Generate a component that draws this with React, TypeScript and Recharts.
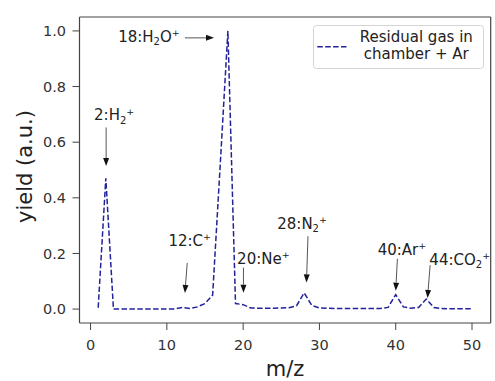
import React from 'react';
import { LineChart, Line, XAxis, YAxis, ReferenceLine, ReferenceDot, Legend } from 'recharts';

// m/z channels (x) and measured yield (y)
const mz = [1, 2, 3, 4, 5, 6, 7, 8, 9, 10, 11, 12, 13, 14, 15, 16, 17, 18, 19, 20, 21, 22, 23, 24, 25,
  26, 27, 28, 29, 30, 31, 32, 33, 34, 35, 36, 37, 38, 39, 40, 41, 42, 43, 44, 45, 46, 47, 48, 49, 50];
const yieldAU = [0.005, 0.47, 0.0, 0.0, 0.0, 0.0, 0.0, 0.0, 0.0, 0.0, 0.0, 0.006, 0.002, 0.008, 0.02,
  0.05, 0.52, 1.0, 0.02, 0.016, 0.004, 0.003, 0.003, 0.003, 0.004,
  0.005, 0.012, 0.058, 0.013, 0.004, 0.003, 0.002, 0.002, 0.002, 0.002, 0.002, 0.002, 0.002, 0.006, 0.052,
  0.008, 0.003, 0.006, 0.036, 0.006, 0.002, 0.001, 0.001, 0.001, 0.001];

const xTicks = [0, 10, 20, 30, 40, 50];
const yTicks = [0, 0.2, 0.4, 0.6, 0.8, 1.0];
const seriesName = 'Residual gas in\nchamber + Ar';

type Seg = { t: string; k?: 'sub' | 'sup' };
// peak annotation labels
const annLabels: Seg[][] = [
  [{ t: '2:H' }, { t: '2', k: 'sub' }, { t: '+', k: 'sup' }],
  [{ t: '18:H' }, { t: '2', k: 'sub' }, { t: 'O' }, { t: '+', k: 'sup' }],
  [{ t: '12:C' }, { t: '+', k: 'sup' }],
  [{ t: '20:Ne' }, { t: '+', k: 'sup' }],
  [{ t: '28:N' }, { t: '2', k: 'sub' }, { t: '+', k: 'sup' }],
  [{ t: '40:Ar' }, { t: '+', k: 'sup' }],
  [{ t: '44:CO' }, { t: '2', k: 'sub' }, { t: '+', k: 'sup' }],
];
// annotation text anchor (data coords), arrow tail and arrow tip (data coords)
const annText = [[0.46, 0.678], [3.62, 0.961], [10.2, 0.2285], [19.21, 0.1635], [24.47, 0.289], [37.63, 0.196], [44.41, 0.16]];
const annTail = [[2.04, 0.653], [12.37, 0.975], [12.67, 0.166], [20.04, 0.149], [28.5, 0.262], [40.22, 0.181], [44.51, 0.158]];
const annTip = [[2.04, 0.514], [16.18, 0.975], [12.37, 0.058], [20.04, 0.059], [28.3, 0.096], [40.0, 0.066], [44.17, 0.04]];

const data = mz.map((m, i) => ({ mz: m, y: yieldAU[i] }));

const FONT = 'DejaVu Sans';
const LINE_COLOR = '#22229a';
const FRAME = '#444';

const Arrow = (p: any) => {
  const { x1, y1, x2, y2 } = p;
  const dx = x2 - x1;
  const dy = y2 - y1;
  const len = Math.hypot(dx, dy) || 1;
  const ux = dx / len;
  const uy = dy / len;
  const hl = 8;
  const hw = 3;
  const bx = x2 - ux * hl;
  const by = y2 - uy * hl;
  const pts = `${x2},${y2} ${bx - uy * hw},${by + ux * hw} ${bx + uy * hw},${by - ux * hw}`;
  return (
    <g>
      <line x1={x1} y1={y1} x2={bx} y2={by} stroke="#555" strokeWidth={1} />
      <polygon points={pts} fill="#111" />
    </g>
  );
};

const makeLabel = (segs: Seg[]) => (p: any) => {
  let cur = 0;
  const kids = segs.map((s, j) => {
    const target = s.k === 'sub' ? 3.5 : s.k === 'sup' ? -5.5 : 0;
    const dy = target - cur;
    cur = target;
    return (
      <tspan key={j} dy={dy} fontSize={s.k === 'sup' ? 9.5 : s.k === 'sub' ? 10 : 15}>
        {s.t}
      </tspan>
    );
  });
  return (
    <text x={p.cx} y={p.cy} fontSize={15} fill="#222" fontFamily={FONT}>
      {kids}
    </text>
  );
};

const LegendBox = (props: any) => {
  const item = props.payload && props.payload[0];
  const name: string = item ? String(item.value) : seriesName;
  const color = item ? item.color : LINE_COLOR;
  const lines = name.split('\n');
  return (
    <svg width={171} height={44} style={{ display: 'block', overflow: 'visible' }}>
      <rect x={0.5} y={0.5} width={170} height={43} rx={3} fill="#fff" fillOpacity={0.85} stroke="#d4d4d4" />
      <line x1={4.3} x2={35.3} y1={21.7} y2={21.7} stroke={color} strokeWidth={1.5} strokeDasharray="5.5 2.4" />
      {lines.map((l, i) => (
        <text key={i} x={103.3} y={16.5 + i * 17.5} textAnchor="middle" fontSize={15} fill="#222" fontFamily={FONT}>
          {l}
        </text>
      ))}
    </svg>
  );
};

const YLabel = (props: any) => {
  const vb = props.viewBox || { y: 17, height: 306 };
  const cx = 31.5;
  const cy = vb.y + vb.height / 2 - 3.5;
  return (
    <text x={cx} y={cy} transform={`rotate(-90, ${cx}, ${cy})`} textAnchor="middle" fontSize={21} fill="#222" fontFamily={FONT}>
      yield (a.u.)
    </text>
  );
};

const XLabel = (props: any) => {
  const vb = props.viewBox || { x: 79.5, width: 411.2 };
  const cx = vb.x + vb.width / 2;
  return (
    <text x={cx} y={375.5} textAnchor="middle" fontSize={21} fill="#222" fontFamily={FONT}>
      m/z
    </text>
  );
};

const tickStyle = { fontSize: 14.5, fill: '#333', fontFamily: FONT };

export default function App() {
  return (
    <div style={{ position: 'absolute', left: 0, top: 0, background: '#fff' }}>
      <LineChart width={495} height={381} data={data} margin={{ top: 0, right: 0, bottom: 0, left: 0 }} style={{ fontFamily: FONT }}>
        <XAxis
          dataKey="mz"
          type="number"
          domain={[-1.45, 52.45]}
          ticks={xTicks}
          interval={0}
          allowDataOverflow
          height={58}
          tickSize={7}
          tickMargin={9.5}
          tick={tickStyle}
          tickLine={{ stroke: FRAME }}
          axisLine={{ stroke: FRAME, strokeWidth: 1.2 }}
          label={{ content: XLabel }}
        />
        <XAxis
          xAxisId="top"
          orientation="top"
          dataKey="mz"
          type="number"
          domain={[-1.45, 52.45]}
          ticks={xTicks}
          interval={0}
          allowDataOverflow
          height={17}
          tickSize={7}
          tick={false}
          tickLine={{ stroke: FRAME }}
          axisLine={{ stroke: FRAME, strokeWidth: 1.2 }}
        />
        <YAxis
          type="number"
          domain={[-0.05, 1.05]}
          ticks={yTicks}
          interval={0}
          allowDataOverflow
          width={79.5}
          tickSize={7}
          tickMargin={6.5}
          tick={tickStyle}
          tickFormatter={(v: number) => v.toFixed(1)}
          tickLine={{ stroke: FRAME }}
          axisLine={{ stroke: FRAME, strokeWidth: 1.2 }}
          label={{ content: YLabel }}
        />
        <YAxis
          yAxisId="right"
          orientation="right"
          type="number"
          domain={[-0.05, 1.05]}
          ticks={yTicks}
          interval={0}
          allowDataOverflow
          width={4.3}
          tickSize={7}
          tick={false}
          tickLine={{ stroke: FRAME }}
          axisLine={{ stroke: FRAME, strokeWidth: 1.2 }}
        />
        <Line
          dataKey="y"
          name={seriesName}
          type="linear"
          stroke={LINE_COLOR}
          strokeWidth={1.5}
          strokeDasharray="5.5 2.4"
          dot={false}
          activeDot={false}
          isAnimationActive={false}
        />
        {annTail.map((t, i) => (
          <ReferenceLine
            key={`a${i}`}
            segment={[{ x: t[0], y: t[1] }, { x: annTip[i][0], y: annTip[i][1] }]}
            shape={Arrow}
            ifOverflow="visible"
          />
        ))}
        {annText.map((p, i) => (
          <ReferenceDot key={`t${i}`} x={p[0]} y={p[1]} r={0} shape={makeLabel(annLabels[i])} ifOverflow="visible" />
        ))}
        <Legend
          layout="horizontal"
          verticalAlign="middle"
          align="center"
          content={LegendBox}
          wrapperStyle={{ position: 'absolute', left: 312.7, top: 25, width: 171, height: 44 }}
        />
      </LineChart>
    </div>
  );
}
